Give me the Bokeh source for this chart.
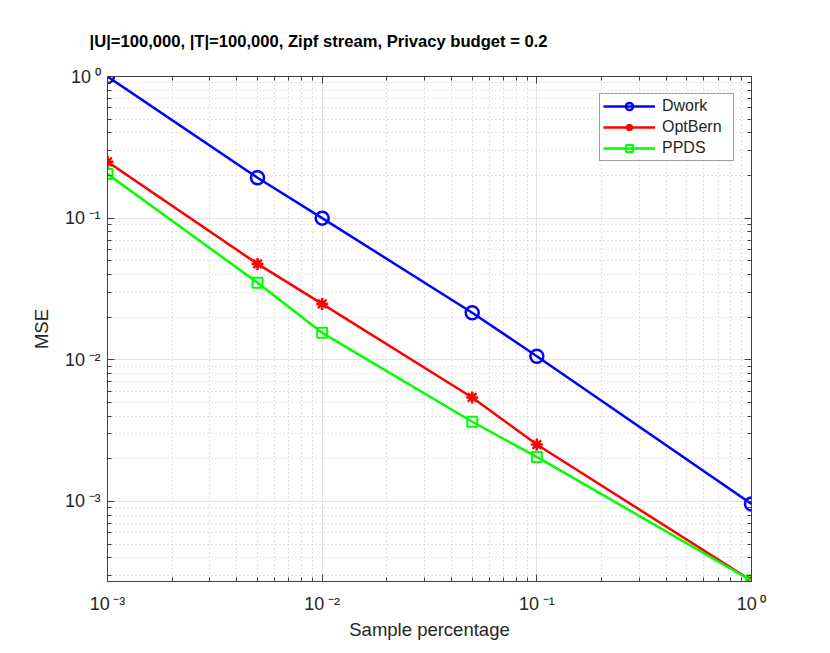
from bokeh.plotting import figure
from bokeh.models import (LogAxis, FixedTicker, CustomJSTickFormatter, Range1d)
from bokeh.embed import file_html
from bokeh.resources import INLINE

# ---- data ----
sample_pct = [0.001, 0.005, 0.01, 0.05, 0.1, 1.0]
dwork = [1.0, 0.193, 0.1, 0.0215, 0.0106, 0.00096]
optbern = [0.25, 0.0475, 0.0248, 0.00542, 0.00252, 0.000276]
ppds = [0.205, 0.035, 0.0155, 0.00365, 0.00206, 0.000276]

x_major = [1e-3, 1e-2, 1e-1, 1e0]
y_major = [1e-3, 1e-2, 1e-1, 1e0]
x_minor = [m * d for d in [1e-3, 1e-2, 1e-1] for m in range(2, 10)]
y_minor = [m * d for d in [1e-4, 1e-3, 1e-2, 1e-1] for m in range(2, 10)]

title_text = "|U|=100,000, |T|=100,000, Zipf stream, Privacy budget = 0.2"
x_label = "Sample percentage"
y_label = "MSE"

FONT = "Liberation Sans"
TXT = "#262626"
AX = "#404040"

p = figure(width=814, height=645, x_axis_type="log", y_axis_type="log",
           x_range=Range1d(1e-3, 1e0), y_range=Range1d(2.72e-4, 1e0),
           output_backend="svg", toolbar_location=None,
           min_border_left=107, min_border_right=63,
           min_border_top=76, min_border_bottom=64)
p.background_fill_color = "white"
p.border_fill_color = "white"
p.outline_line_color = AX
p.outline_line_width = 1

p.title.text = title_text
p.title.align = "left"
p.title.offset = -18
p.title.standoff = 52
p.title.text_font = FONT
p.title.text_font_size = "16.6px"
p.title.text_font_style = "bold"
p.title.text_color = "black"

fmt = CustomJSTickFormatter(code="""
const e = Math.round(Math.log10(tick));
const sup = {"-":"\u207b","0":"\u2070","1":"\u00b9","2":"\u00b2","3":"\u00b3","4":"\u2074","5":"\u2075","6":"\u2076","7":"\u2077","8":"\u2078","9":"\u2079"};
return "10\u2009" + String(e).split("").map(c => sup[c]).join("");
""")

def style_axis(ax, major, minor, show_labels=True):
    ax.ticker = FixedTicker(ticks=major, minor_ticks=minor)
    ax.formatter = fmt
    ax.axis_line_color = AX
    ax.major_tick_line_color = AX
    ax.minor_tick_line_color = AX
    ax.major_tick_in = 7
    ax.major_tick_out = 0
    ax.minor_tick_in = 4
    ax.minor_tick_out = 0
    ax.major_label_text_font = FONT
    ax.major_label_text_font_size = "18px" if show_labels else "0px"
    ax.major_label_text_color = TXT if show_labels else None
    ax.axis_label_text_font = FONT
    ax.axis_label_text_font_size = "18.5px"
    ax.axis_label_text_font_style = "normal"
    ax.axis_label_text_color = TXT
    if not show_labels:
        ax.major_label_standoff = 0

style_axis(p.xaxis[0], x_major, x_minor)
style_axis(p.yaxis[0], y_major, y_minor)
p.xaxis[0].axis_label = x_label
p.yaxis[0].axis_label = y_label
p.xaxis[0].major_label_standoff = 12
p.xaxis[0].axis_label_standoff = 2
p.yaxis[0].major_label_standoff = 7
p.yaxis[0].axis_label_standoff = 10

top_ax = LogAxis()
right_ax = LogAxis()
style_axis(top_ax, x_major, x_minor, show_labels=False)
style_axis(right_ax, y_major, y_minor, show_labels=False)
p.add_layout(top_ax, "above")
p.add_layout(right_ax, "right")

for g in (p.xgrid[0], p.ygrid[0]):
    g.grid_line_color = "#e3e3e3"
    g.grid_line_width = 1
    g.minor_grid_line_color = "#c4c4c4"
    g.minor_grid_line_dash = "1 3"
    g.minor_grid_line_width = 1
p.xgrid[0].ticker = FixedTicker(ticks=x_major, minor_ticks=x_minor)
p.ygrid[0].ticker = FixedTicker(ticks=y_major, minor_ticks=y_minor)

LW = 2.5
p.line(sample_pct, dwork, color="#0000ff", line_width=LW, legend_label="Dwork")
p.scatter(sample_pct, dwork, marker="circle", size=13, line_color="#0000ff",
          fill_color=None, line_width=2.5, legend_label="Dwork")
p.line(sample_pct, optbern, color="#ff0000", line_width=LW, legend_label="OptBern")
p.scatter(sample_pct, optbern, marker="asterisk", size=12, line_color="#ff0000",
          line_width=2.5, legend_label="OptBern")
p.line(sample_pct, ppds, color="#00ff00", line_width=LW, legend_label="PPDS")
p.scatter(sample_pct, ppds, marker="square", size=10, line_color="#00ff00",
          fill_color=None, line_width=2, legend_label="PPDS")

lg = p.legend[0]
lg.location = "top_right"
lg.margin = 17
lg.padding = 3
lg.spacing = 3
lg.glyph_width = 52
lg.glyph_height = 18
lg.label_height = 18
lg.label_width = 68
lg.label_standoff = 7
lg.label_text_font = FONT
lg.label_text_font_size = "16px"
lg.label_text_color = TXT
lg.border_line_color = AX
lg.border_line_width = 1
lg.background_fill_color = "white"
lg.background_fill_alpha = 1.0

open("out.html", "w").write(file_html(p, INLINE))
